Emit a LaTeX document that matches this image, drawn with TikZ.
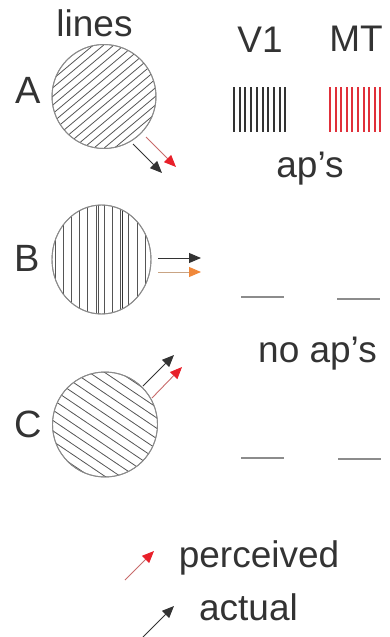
\documentclass[tikz,border=0pt]{standalone}
\usepackage{fontspec}
\setmainfont{Liberation Sans}
\usetikzlibrary{arrows.meta,shapes.geometric}

\definecolor{ink}{HTML}{333333}
\definecolor{rim}{HTML}{8A8A8A}
\definecolor{hatch}{HTML}{555555}
\definecolor{spikered}{HTML}{E0303A}
\definecolor{headred}{HTML}{E8202A}
\definecolor{stemred}{HTML}{C86A6A}
\definecolor{headorange}{HTML}{F0883A}
\definecolor{stemorange}{HTML}{C9A484}
\definecolor{flat}{HTML}{8C8C8C}

\tikzset{
  lbl/.style={text=ink, inner sep=0pt, anchor=base, font=\fontsize{37}{37}\selectfont},
  letter/.style={lbl, font=\fontsize{38}{38}\selectfont},
  disc/.style={draw=rim, line width=0.9pt, inner sep=0pt},
  hatchline/.style={draw=hatch, line width=0.8pt},
  tipblack/.style={-{Triangle[length=12pt,width=10pt]}, draw=ink, line width=0.9pt},
  tipred/.style={-{Triangle[length=12pt,width=10pt,color=headred]}, draw=stemred, line width=0.9pt},
  tiporange/.style={-{Triangle[length=12pt,width=10pt,color=headorange]}, draw=stemorange, line width=0.9pt},
  spikeV/.style={draw=ink, line width=2pt},
  spikeM/.style={draw=spikered, line width=2pt},
  silent/.style={draw=flat, line width=1.4pt},
}

\begin{document}
\begin{tikzpicture}[x=1pt,y=-1pt]
\useasboundingbox (0,0) rectangle (389,637);

% column headings
\node[lbl] (lines) at (94.5,36) {lines};
\node[lbl] (v1) at (260,52) {V1};
\node[lbl] (mt) at (356,51) {MT};

% row letters
\node[letter] (la) at (28.5,103) {A};
\node[letter] (lb) at (27.5,271) {B};
\node[letter] (lc) at (28.5,437) {C};

% stimulus A: oblique lines rising to the right
\node[disc, circle, minimum size=104pt] (dA) at (104,96.5) {};
\begin{scope}
  \clip (dA.center) circle (52pt);
  \foreach \k in {-8,...,8}
    \draw[hatchline, shift={(dA.center)}, rotate=40] (-60,\k*6.6) -- (60,\k*6.6);
\end{scope}
\node[disc, circle, minimum size=104pt] at (dA.center) {};

% stimulus B: vertical lines
\node[disc, ellipse, minimum width=99pt, minimum height=109pt] (dB) at (101.5,259.5) {};
\begin{scope}
  \clip (dB.center) ellipse (49.5pt and 54.5pt);
  \foreach \x in {55,63.2,...,150}
    \draw[hatchline] (\x,200) -- (\x,320);
  \draw[draw=ink, line width=1.6pt] (122.3,200) -- (122.3,320);
  \draw[draw=hatch, line width=1.2pt] (98.3,200) -- (98.3,320);
\end{scope}
\node[disc, ellipse, minimum width=99pt, minimum height=109pt] at (dB.center) {};

% stimulus C: oblique lines falling to the right
\node[disc, circle, minimum size=105pt] (dC) at (105,424.5) {};
\begin{scope}
  \clip (dC.center) circle (52.5pt);
  \foreach \k in {-6,...,6}
    \draw[hatchline, shift={(dC.center)}, rotate=-34] (-60,\k*8.6) -- (60,\k*8.6);
\end{scope}
\node[disc, circle, minimum size=105pt] at (dC.center) {};

% motion arrows
\coordinate (a1s) at (133,144); \coordinate (a1e) at (162,173);
\coordinate (a2s) at (146,137); \coordinate (a2e) at (176,167);
\draw[tipred] (a2s) -- (a2e);
\draw[tipblack] (a1s) -- (a1e);

\coordinate (b1s) at (158,258); \coordinate (b1e) at (201,258);
\coordinate (b2s) at (158,272); \coordinate (b2e) at (201,272);
\draw[tipblack] (b1s) -- (b1e);
\draw[tiporange] (b2s) -- (b2e);

\coordinate (c1s) at (143,386); \coordinate (c1e) at (174,355);
\coordinate (c2s) at (152,398); \coordinate (c2e) at (182,367);
\draw[tipblack] (c1s) -- (c1e);
\draw[tipred] (c2s) -- (c2e);

% spike trains for row A
\foreach \i in {0,...,9}
  \draw[spikeV] (234+\i*5.7,87) -- (234+\i*5.7,132);
\foreach \i in {0,...,9}
  \draw[spikeM] (330+\i*5.6,87) -- (330+\i*5.6,132);
\node[lbl] (aps) at (310,177) {ap’s};

% flat traces for rows B and C
\coordinate (f1s) at (241,297); \coordinate (f1e) at (284,297);
\coordinate (f2s) at (337,299); \coordinate (f2e) at (380,299);
\draw[silent] (f1s) -- (f1e);
\draw[silent] (f2s) -- (f2e);
\node[lbl] (noaps) at (317.5,362) {no ap’s};
\coordinate (g1s) at (241,458); \coordinate (g1e) at (284,458);
\coordinate (g2s) at (338,459); \coordinate (g2e) at (381,459);
\draw[silent] (g1s) -- (g1e);
\draw[silent] (g2s) -- (g2e);

% legend
\coordinate (k1s) at (125,580); \coordinate (k1e) at (154,551);
\draw[tipred] (k1s) -- (k1e);
\node[lbl] (perc) at (259,567) {perceived};
\coordinate (k2s) at (143,637); \coordinate (k2e) at (174,606);
\draw[tipblack] (k2s) -- (k2e);
\node[lbl] (act) at (248.5,620) {actual};
\end{tikzpicture}
\end{document}
